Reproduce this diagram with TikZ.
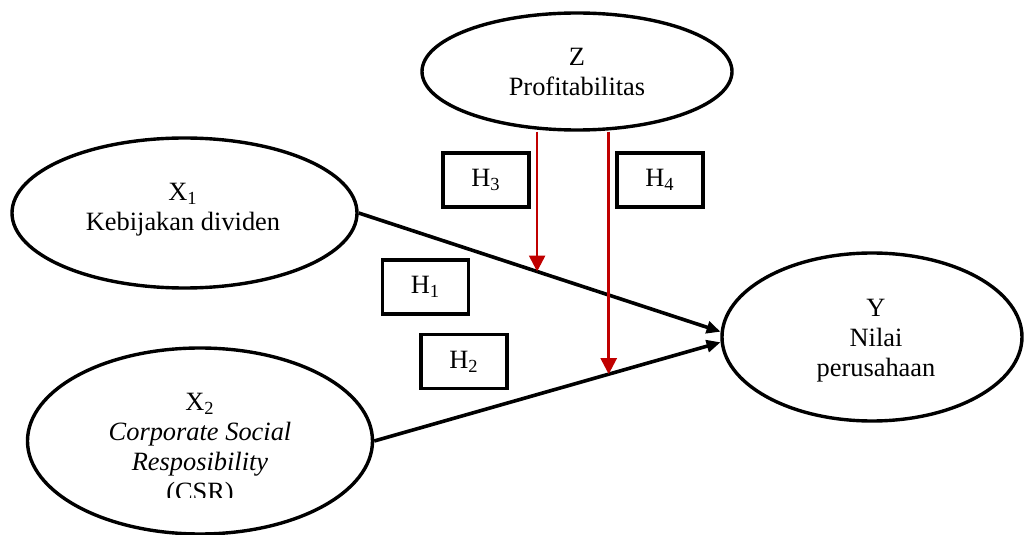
\documentclass[tikz,border=0pt]{standalone}
\usepackage{fontspec}
\setmainfont{Liberation Serif}
\usepackage{xcolor}
\usetikzlibrary{shapes.geometric,arrows.meta}
\definecolor{hred}{RGB}{192,0,0}

\begin{document}
\begin{tikzpicture}[x=0.5pt, y=-0.5pt, every node/.style={font=\fontsize{13.2}{15}\selectfont, align=center}]
% Define styles
\tikzstyle{latent} = [ellipse, draw, line width=1.7pt, inner sep=0pt]
\tikzstyle{hypo} = [rectangle, draw, line width=1.7pt, minimum width=43pt, minimum height=27pt, inner sep=0pt]
\tikzstyle{path} = [line width=1.8pt, -{Triangle[length=7pt,width=6pt]}]
\tikzstyle{modpath} = [hred, line width=1.3pt, -{Triangle[length=8pt,width=8pt]}]

\useasboundingbox (0,0) rectangle (1024,535);

% Variables
\node [latent, minimum width=155pt, minimum height=58.5pt] (z) at (577,71.5) {Z\\Profitabilitas};
\node [latent, minimum width=172.5pt, minimum height=75pt] (x1) at (184.5,213) {};
\node (x1text) at (183,210) {X\textsubscript{1}\\Kebijakan dividen};
\node [latent, minimum width=150pt, minimum height=84pt] (y) at (872,337) {};
\node (ytext) at (876,341) {Y\\Nilai\\perusahaan};
\node [latent, minimum width=172.5pt, minimum height=93pt] (x2) at (200,441) {};
\begin{scope}
\clip (0,0) rectangle (1024,497);
\node (x2text) at (200,450) {X\textsubscript{2}\\\textit{Corporate Social}\\\textit{Resposibility}\\(CSR)};
\end{scope}

% Hypotheses
\node [hypo] (h1) at (425.5,287) {H\textsubscript{1}};
\node [hypo] (h2) at (464,361.5) {H\textsubscript{2}};
\node [hypo] (h3) at (486,180) {H\textsubscript{3}};
\node [hypo] (h4) at (660,180) {H\textsubscript{4}};

% Connections
\draw [path] (x1.east) -- coordinate[pos=0.493] (m1) (y.178);
\draw [path] (x2.east) -- coordinate[pos=0.677] (m2) (y.182);
\draw [modpath] (m1 |- z.south) -- (m1);
\draw [modpath] (m2 |- z.south) -- (m2);

\end{tikzpicture}
\end{document}
